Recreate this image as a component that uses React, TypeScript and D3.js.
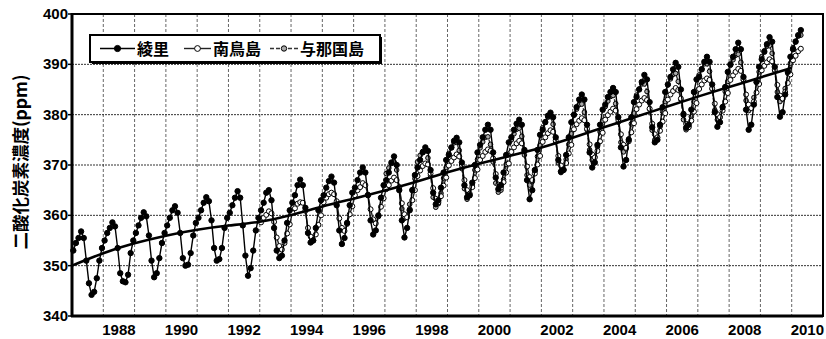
import React from 'react';
import * as d3 from 'd3';

// monthly means (ppm)
const ryoriStart = 1987;
const ryori = [
  353.0, 354.5, 355.5, 356.8, 355.5, 351.0, 346.5, 344.2, 344.8, 347.5, 351.0, 353.5,
  355.0, 356.5, 357.5, 358.6, 357.8, 353.5, 348.5, 346.9, 346.7, 348.2, 352.5, 355.0,
  356.5, 358.0, 359.5, 360.6, 359.8, 356.0, 351.0, 347.7, 348.5, 351.5, 354.5, 356.5,
  358.0, 359.5, 361.0, 361.8, 360.5, 356.5, 351.5, 350.0, 350.2, 352.5, 356.0, 358.5,
  359.5, 361.0, 362.5, 363.6, 362.8, 359.0, 353.5, 351.0, 351.3, 353.5, 357.5, 359.5,
  360.5, 362.0, 363.5, 364.8, 363.5, 358.0, 352.0, 348.0, 349.5, 353.0, 357.0, 359.5,
  361.0, 362.5, 364.5, 365.0, 363.0, 357.5, 353.0, 351.5, 352.0, 355.0, 358.5, 361.0,
  362.5, 364.0, 366.0, 367.1, 366.0, 361.5, 356.5, 354.6, 355.0, 357.5, 361.0, 363.0,
  364.0, 365.5, 366.8, 367.7, 366.5, 362.0, 357.0, 354.3, 355.5, 358.5, 362.0, 364.5,
  365.5, 367.0, 368.5, 369.5, 368.5, 364.0, 359.0, 356.2, 357.0, 360.0, 363.5, 366.0,
  367.0, 368.5, 370.5, 371.7, 370.0, 365.0, 359.0, 355.6, 357.5, 361.0, 365.0, 368.0,
  369.5, 371.0, 372.5, 373.5, 372.8, 369.0, 364.5, 362.2, 363.0, 365.5, 368.5, 371.0,
  372.0, 373.5, 374.8, 375.4, 374.5, 370.5, 366.0, 363.6, 364.0, 366.5, 370.0, 372.5,
  374.0, 375.5, 377.0, 378.0, 377.0, 372.5, 367.5, 365.2, 366.0, 368.5, 372.0, 374.5,
  375.5, 377.0, 378.2, 379.0, 378.0, 373.0, 367.0, 363.2, 365.0, 369.0, 373.0, 376.0,
  377.0, 378.5, 379.8, 380.4, 379.5, 375.5, 371.0, 368.7, 369.0, 372.0, 375.5, 378.5,
  380.0, 381.5, 383.0, 384.0, 383.0, 378.0, 372.5, 369.5, 370.5, 374.0, 378.0, 381.0,
  382.0, 383.5, 384.5, 385.3, 384.5, 379.5, 373.5, 369.7, 371.0, 375.0, 379.5, 382.5,
  383.5, 385.0, 386.5, 387.9, 387.0, 382.5, 377.5, 374.5, 375.0, 378.0, 381.5, 384.5,
  386.0, 387.5, 389.0, 390.3, 389.5, 385.0, 380.0, 377.4, 378.0, 381.0, 384.5, 387.0,
  387.5, 389.0, 390.5, 391.5, 390.5, 386.0, 380.5, 377.6, 378.5, 381.5, 385.5, 388.5,
  390.0, 391.5, 393.0, 394.3, 393.0, 387.5, 381.0, 377.0, 378.0, 382.0, 386.5, 389.5,
  391.0, 392.5, 394.0, 395.4, 394.5, 389.5, 383.5, 379.6, 380.5, 384.0, 388.5, 391.5,
  393.0, 394.5, 395.8, 396.8,
];

const minamiStart = 1993;
const minamitorishima = [
  358.6, 359.5, 360.1, 360.8, 360.4, 358.7, 355.6, 353.9, 353.2, 354.5, 356.4, 358.2,
  360.5, 361.4, 362.3, 362.6, 362.5, 360.9, 357.5, 355.8, 355.0, 356.2, 358.1, 360.0,
  362.6, 363.5, 364.2, 364.5, 364.2, 362.8, 359.4, 357.5, 356.9, 358.3, 360.2, 361.8,
  364.0, 365.0, 365.6, 366.4, 366.0, 364.1, 361.2, 359.2, 358.4, 359.8, 361.7, 363.4,
  365.2, 366.0, 366.9, 367.5, 367.0, 365.6, 362.4, 360.2, 359.6, 361.2, 363.0, 365.0,
  367.8, 368.9, 369.8, 370.3, 370.1, 368.3, 365.4, 363.3, 362.6, 363.8, 365.9, 367.5,
  369.9, 370.8, 371.5, 372.1, 371.7, 370.0, 367.0, 365.0, 364.3, 365.6, 367.4, 369.1,
  371.0, 371.8, 372.6, 373.1, 372.8, 371.3, 368.2, 366.1, 365.5, 366.6, 368.5, 370.3,
  372.6, 373.5, 374.3, 374.8, 374.3, 372.7, 369.7, 367.6, 367.0, 368.3, 370.1, 371.8,
  374.6, 375.5, 376.3, 376.9, 376.6, 374.9, 371.8, 369.9, 369.1, 370.4, 372.3, 374.0,
  377.1, 378.1, 378.8, 379.3, 378.9, 377.2, 374.1, 372.1, 371.5, 372.8, 374.7, 376.4,
  379.0, 379.9, 380.6, 381.2, 380.8, 379.0, 376.1, 374.0, 373.4, 374.7, 376.5, 378.3,
  381.1, 382.0, 382.8, 383.3, 382.9, 381.2, 378.2, 376.1, 375.5, 376.8, 378.6, 380.3,
  383.0, 384.0, 384.7, 385.3, 384.9, 383.2, 380.2, 378.2, 377.5, 378.8, 380.6, 382.3,
  385.1, 386.0, 386.8, 387.2, 386.9, 385.2, 382.2, 380.1, 379.5, 380.8, 382.6, 384.3,
  386.9, 387.8, 388.5, 389.1, 388.7, 387.0, 384.0, 382.0, 381.3, 382.6, 384.4, 386.1,
  388.8, 389.7, 390.4, 391.0, 390.6, 388.9, 385.9, 383.8, 383.2, 384.5, 386.3, 388.0,
  390.8, 391.7, 392.6, 393.1,
];

const yonaguniStart = 1997;
const yonaguni = [
  368.3, 369.4, 370.3, 370.6, 369.0, 365.6, 361.3, 359.4, 359.9, 362.2, 365.1, 367.3,
  370.6, 371.9, 372.7, 372.9, 371.4, 367.9, 363.6, 361.6, 362.3, 364.4, 367.4, 369.5,
  372.3, 373.4, 374.4, 374.5, 372.9, 369.3, 365.3, 363.2, 363.9, 366.0, 369.0, 371.1,
  373.4, 374.6, 375.5, 375.6, 374.1, 370.6, 366.4, 364.6, 365.0, 367.1, 370.1, 372.2,
  375.0, 376.2, 377.1, 377.3, 375.7, 372.0, 368.0, 366.0, 366.7, 368.7, 371.7, 373.9,
  377.4, 378.6, 379.5, 379.6, 378.1, 374.6, 370.4, 368.5, 369.0, 371.1, 374.1, 376.2,
  379.9, 381.1, 382.0, 382.1, 380.5, 377.0, 373.0, 371.0, 371.6, 373.6, 376.6, 378.8,
  381.6, 382.7, 383.6, 383.8, 382.2, 378.5, 374.5, 372.6, 373.2, 375.2, 378.2, 380.3,
  383.9, 385.1, 386.1, 386.1, 384.6, 381.1, 376.9, 375.0, 375.5, 377.6, 380.6, 382.6,
  385.9, 387.1, 388.0, 388.2, 386.6, 383.0, 379.0, 377.0, 377.6, 379.6, 382.6, 384.7,
  387.9, 389.1, 390.1, 390.1, 388.6, 385.1, 380.9, 379.0, 379.5, 381.6, 384.6, 386.6,
  389.8, 390.9, 391.8, 392.0, 390.4, 386.8, 382.8, 380.8, 381.4, 383.4, 386.4, 388.5,
  391.5, 392.7, 393.6, 393.7, 392.2, 388.7, 384.5, 382.6, 383.1, 385.2, 388.2, 390.2,
  393.3, 394.6, 395.6, 395.8,
];

// long-term trend
const trendYears = [1987, 1988, 1989, 1990, 1991, 1992, 1993, 1994, 1995, 1996, 1997, 1998,
  1999, 2000, 2001, 2002, 2003, 2004, 2005, 2006, 2007, 2008, 2009, 2010];
const trendValues = [350.0, 352.6, 354.5, 356.0, 357.2, 358.0, 358.6, 360.0, 361.8, 363.3, 364.9, 366.6,
  368.6, 370.3, 371.8, 373.4, 375.4, 377.5, 379.5, 381.6, 383.6, 385.5, 387.4, 389.3];

const yTicks = [340, 350, 360, 370, 380, 390, 400];
const xTickLabels = ['1988', '1990', '1992', '1994', '1996', '1998', '2000', '2002', '2004', '2006', '2008', '2010'];
const legendNames = ['綾里', '南鳥島', '与那国島'];

const W = 826;
const H = 339;
const left = 72;
const right = 823;
const top = 14;
const bottom = 316;

const jp = '"Noto Sans CJK JP", "Noto Sans", sans-serif';
const num = '"Liberation Sans", Arial, sans-serif';

type Pt = { t: number; v: number };

const App = () => {
  const x = d3.scaleLinear().domain([1987, 2011]).range([left, right]);
  const y = d3.scaleLinear().domain([340, 400]).range([bottom, top]);

  const monthly = (vals: number[], start: number): Pt[] =>
    vals.map((v, i) => ({ t: start + (i + 0.5) / 12, v }));

  const line = d3.line<Pt>().x(d => x(d.t)).y(d => y(d.v));
  const smooth = d3.line<Pt>().x(d => x(d.t)).y(d => y(d.v)).curve(d3.curveBasis);

  const series = [
    { name: legendNames[0], pts: monthly(ryori, ryoriStart), stroke: '#000', fill: '#000', dash: null, r: 2.7 },
    { name: legendNames[1], pts: monthly(minamitorishima, minamiStart), stroke: '#222', fill: '#fff', dash: null, r: 2.5 },
    { name: legendNames[2], pts: monthly(yonaguni, yonaguniStart), stroke: '#333', fill: '#aaa', dash: '4,2', r: 2.3 },
  ];
  const drawOrder = [series[2], series[1], series[0]];

  const trend: Pt[] = trendYears.map((t, i) => ({ t, v: trendValues[i] }));
  const gridYears = d3.range(1988, 2011);

  // legend layout
  const legendItems = [
    { lx: 100, tx: 137 },
    { lx: 184, tx: 213 },
    { lx: 270, tx: 300 },
  ];

  return (
    <svg width={W} height={H} style={{ position: 'absolute', left: 0, top: 0, background: '#fff' }}>
      <rect x={0} y={0} width={W} height={H} fill="#fff" />

      {/* grid */}
      {gridYears.map(yr => (
        <line key={'gx' + yr} x1={x(yr)} x2={x(yr)} y1={top} y2={bottom}
          stroke="#666" strokeWidth={1} strokeDasharray="3,2" />
      ))}
      {yTicks.filter(v => v > 340 && v < 400).map(v => (
        <line key={'gy' + v} x1={left} x2={right} y1={y(v)} y2={y(v)}
          stroke="#333" strokeWidth={1} strokeDasharray="2,1" />
      ))}

      {/* series */}
      {drawOrder.map(s => (
        <g key={s.name}>
          <path d={line(s.pts) || ''} fill="none" stroke={s.stroke} strokeWidth={1.4}
            strokeDasharray={s.dash || undefined} />
          {s.pts.map((p, i) => (
            <circle key={i} cx={x(p.t)} cy={y(p.v)} r={s.r} fill={s.fill} stroke="#000" strokeWidth={1} />
          ))}
        </g>
      ))}

      <path d={smooth(trend) || ''} fill="none" stroke="#000" strokeWidth={2.6} />

      {/* frame */}
      <rect x={left} y={top} width={right - left} height={bottom - top} fill="none" stroke="#000" strokeWidth={2} />
      <line x1={left} x2={left} y1={top - 1} y2={bottom + 1} stroke="#000" strokeWidth={3} />
      <line x1={left - 1} x2={right} y1={bottom} y2={bottom} stroke="#000" strokeWidth={3} />

      {/* y ticks */}
      {yTicks.map(v => (
        <g key={'yt' + v}>
          <line x1={left - 4} x2={left} y1={y(v)} y2={y(v)} stroke="#000" strokeWidth={1.5} />
          <text x={left - 4} y={y(v) + 5} textAnchor="end" fontFamily={num} fontWeight="bold"
            fontSize={15} fill="#000">{v}</text>
        </g>
      ))}

      {/* x labels */}
      {xTickLabels.map(lbl => (
        <text key={lbl} x={x(+lbl + 0.5)} y={335} textAnchor="middle" fontFamily={num} fontWeight="bold"
          fontSize={15} fill="#000">{lbl}</text>
      ))}

      {/* y title */}
      <text transform="translate(27,162) rotate(-90)" textAnchor="middle"
        fontFamily={jp} fontWeight="bold" fontSize={17.5} fill="#000">二酸化炭素濃度(ppm)</text>

      {/* legend */}
      <rect x={92} y={37} width={290} height={27} fill="#000" />
      <rect x={90} y={35} width={290} height={27} fill="#fff" stroke="#000" strokeWidth={2} />
      {series.map((s, i) => {
        const it = legendItems[i];
        return (
          <g key={'lg' + i}>
            <line x1={it.lx} x2={it.tx - 2} y1={48.5} y2={48.5} stroke={s.stroke} strokeWidth={1.4}
              strokeDasharray={s.dash || undefined} />
            <circle cx={(it.lx + it.tx - 2) / 2} cy={48.5} r={s.r + 0.4} fill={s.fill} stroke="#000" strokeWidth={1} />
            <text x={it.tx} y={55} fontFamily={jp} fontWeight="bold" fontSize={16} fill="#000">{s.name}</text>
          </g>
        );
      })}
    </svg>
  );
};

export default App;
